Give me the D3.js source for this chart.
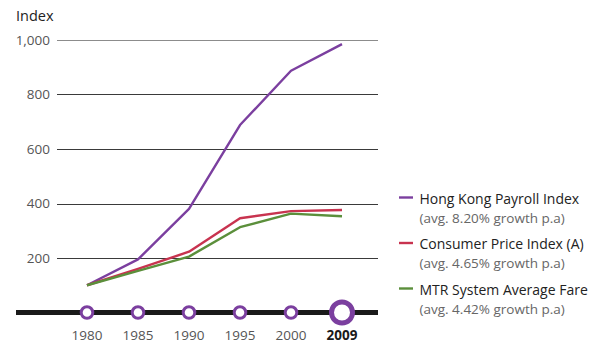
<!DOCTYPE html>
<html>
<head>
<meta charset="utf-8">
<script src="https://cdn.jsdelivr.net/npm/d3@7"></script>
<style>
  html, body { margin: 0; padding: 0; background: #fff; }
  svg { display: block; font-family: "Open Sans", sans-serif; }
</style>
</head>
<body>
<svg id="chart" width="603" height="345"></svg>
<script>
// Index values (1980 = 100)
const years = ["1980", "1985", "1990", "1995", "2000", "2009"];
const payroll = [100, 195, 380, 688, 887, 985];
const cpi = [100, 160, 223, 346, 372, 376];
const fare = [100, 153, 205, 313, 363, 353];
const yTicks = [200, 400, 600, 800, 1000];

const seriesNames = ["Hong Kong Payroll Index", "Consumer Price Index (A)", "MTR System Average Fare"];
const seriesNotes = ["(avg. 8.20% growth p.a)", "(avg. 4.65% growth p.a)", "(avg. 4.42% growth p.a)"];
const seriesColors = ["#7b3f9f", "#c8334f", "#5b8f3b"];
const seriesValues = [payroll, cpi, fare];

const svg = d3.select("#chart");

const x = d3.scalePoint().domain(years).range([87, 342]);
const y = d3.scaleLinear().domain([0, 1000]).range([312.5, 40]);

// Horizontal gridlines
svg.append("g").selectAll("line").data(yTicks).join("line")
  .attr("x1", 57).attr("x2", 378)
  .attr("y1", d => Math.round(y(d)) + 0.5).attr("y2", d => Math.round(y(d)) + 0.5)
  .attr("stroke", d => d === 1000 ? "#8c8c8c" : "#3a3a3a")
  .attr("stroke-width", 1);

// Y tick labels
svg.append("g").selectAll("text").data(yTicks).join("text")
  .attr("x", 50).attr("y", d => y(d))
  .attr("dy", "0.35em")
  .attr("text-anchor", "end")
  .attr("font-size", 13.5)
  .attr("fill", "#555")
  .text(d3.format(","));

svg.append("text")
  .attr("x", 16).attr("y", 21)
  .attr("font-size", 14.5)
  .attr("fill", "#222")
  .text("Index");

// Series lines
const line = d3.line().x((d, i) => x(years[i])).y(d => y(d));
svg.append("g").selectAll("path").data(seriesValues).join("path")
  .attr("d", line)
  .attr("fill", "none")
  .attr("stroke", (d, i) => seriesColors[i])
  .attr("stroke-width", 2.4)
  .attr("stroke-linejoin", "round");

// Bottom axis styled as a rail line with station markers
svg.append("line")
  .attr("x1", 16).attr("x2", 378)
  .attr("y1", y(0)).attr("y2", y(0))
  .attr("stroke", "#1a1a1a")
  .attr("stroke-width", 5);

svg.append("g").selectAll("circle").data(years).join("circle")
  .attr("cx", d => x(d)).attr("cy", y(0))
  .attr("r", (d, i) => i === years.length - 1 ? 10.5 : 5.8)
  .attr("fill", "#fff")
  .attr("stroke", "#7b3f9f")
  .attr("stroke-width", (d, i) => i === years.length - 1 ? 5 : 3);

svg.append("g").selectAll("text").data(years).join("text")
  .attr("x", d => x(d)).attr("y", 340)
  .attr("text-anchor", "middle")
  .attr("font-size", 13.5)
  .attr("font-weight", (d, i) => i === years.length - 1 ? "bold" : "normal")
  .attr("fill", (d, i) => i === years.length - 1 ? "#1a1a1a" : "#555")
  .text(d => d);

// Legend
const legend = svg.append("g").selectAll("g").data(seriesNames).join("g")
  .attr("transform", (d, i) => `translate(399, ${197.5 + i * 45.5})`);
legend.append("line")
  .attr("x1", 0).attr("x2", 14)
  .attr("stroke", (d, i) => seriesColors[i])
  .attr("stroke-width", 2.4);
legend.append("text")
  .attr("x", 20.5).attr("y", 6)
  .attr("font-size", 14)
  .attr("fill", "#222")
  .text(d => d);
legend.append("text")
  .attr("x", 20.5).attr("y", 25)
  .attr("font-size", 13.5)
  .attr("fill", "#666")
  .text((d, i) => seriesNotes[i]);
</script>
</body>
</html>
